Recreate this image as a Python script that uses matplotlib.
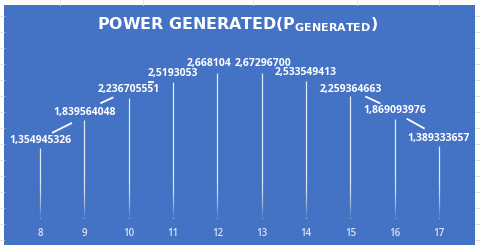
import numpy as np
import matplotlib
matplotlib.use("Agg")
import matplotlib.pyplot as plt
from matplotlib.transforms import IdentityTransform
from matplotlib.colors import to_rgb

# ---- data ----
hours = [8, 9, 10, 11, 12, 13, 14, 15, 16, 17]
power = [1.354945326, 1.839564048, 2.236705551, 2.519305353, 2.668104,
         2.672967, 2.533549413, 2.259364663, 1.869093976, 1.389333657]
point_labels = ["1,354945326", "1,839564048", "2,236705551", "2,5193053", "2,668104",
                "2,67296700", "2,533549413", "2,259364663", "1,869093976", "1,389333657"]

BLUE = "#4472C4"
W, H = 480, 249
fig = plt.figure(figsize=(W / 100, H / 100), dpi=100, facecolor="white")

ax_l, ax_r, ax_t, ax_b = 4, 475, 5, 245
ax = fig.add_axes([ax_l / W, (H - ax_b) / H, (ax_r - ax_l) / W, (ax_b - ax_t) / H])
ax.set_facecolor(BLUE)
for s in ax.spines.values():
    s.set_visible(False)

# scales: 8 -> px 40, 17 -> px 439 ; value 0 -> px 225, 56.9 px per unit
xu = (439 - 40) / 9
XLIM = (8 - (40 - ax_l) / xu, 17 + (ax_r - 439) / xu)
yu = 56.9
YLIM = (-(ax_b - 225) / yu, (225 - ax_t) / yu)
ax.set_xlim(XLIM)
ax.set_ylim(YLIM)
ax.set_yticks([])

ax.set_xticks(hours)
ax.set_xticklabels([str(h) for h in hours], fontfamily="Open Sans", fontsize=7,
                   fontweight="semibold", color="#DCE3F3")
ax.tick_params(axis="x", length=0, pad=-12.5)

# stems
ax.vlines(hours, 0.12, power, colors="white", linewidth=0.9, alpha=0.85, zorder=2)

# fade at bottom of stems
rgb = to_rgb(BLUE)
n = 100
grad = np.zeros((n, 2, 4))
grad[..., 0], grad[..., 1], grad[..., 2] = rgb
alpha = np.linspace(1, 0, n) ** 2.2
grad[..., 3] = alpha[:, None]
ax.imshow(grad, extent=[XLIM[0], XLIM[1], 0.12, 0.9], origin="lower", aspect="auto",
          zorder=3, interpolation="bilinear")
ax.set_xlim(XLIM)
ax.set_ylim(YLIM)

# data labels (px offsets)
label_dx = [0, 0, 0, 0, -8, 1, 0, 0, 0, 0]
label_dy = [7, 8, 8, 8, 10, 9, 8, 7, 8, 7]
for x, v, t, dx, dy in zip(hours, power, point_labels, label_dx, label_dy):
    ax.annotate(t, (x, v), xytext=(dx * 0.72, dy * 0.72), textcoords="offset points",
                ha="center", va="center", color="white", fontsize=7.5,
                fontfamily="Open Sans", fontweight="bold", zorder=5)

# leader lines, pixel offsets from point (dx0, dy0, dx1, dy1), dy up
leaders = {0: (12, 15, 32, 25), 1: (16, 17, 29, 23), 3: (-25, 0, -19, 0),
           7: (15, 0, 30, -7), 8: (12, 0, 30, -10)}
for i, (dx0, dy0, dx1, dy1) in leaders.items():
    px, py = ax.transData.transform((hours[i], power[i]))
    ax.plot([px + dx0, px + dx1], [py + dy0, py + dy1], color="white", lw=1.3,
            transform=IdentityTransform(), zorder=5, solid_capstyle="butt")

# title
plt.rcParams["mathtext.fontset"] = "custom"
plt.rcParams["mathtext.bf"] = "DejaVu Sans:bold"
plt.rcParams["mathtext.rm"] = "DejaVu Sans:bold"
fig.text(238 / W, 1 - 25 / H, r"POWER GENERATED(P$_{\mathbf{GENERATED}}$)",
         ha="center", va="center", color="white", fontsize=11.4,
         fontfamily="DejaVu Sans", fontweight="bold")

# faint sheet grid marks outside chart
for y in np.arange(16, 245, 16):
    fig.add_artist(plt.Line2D([0, ax_l / W], [1 - y / H, 1 - y / H], color="#DDDDDD", lw=0.6))
    fig.add_artist(plt.Line2D([ax_r / W, 1], [1 - y / H, 1 - y / H], color="#DDDDDD", lw=0.6))
for x in [60, 143, 253, 357, 439]:
    fig.add_artist(plt.Line2D([x / W, x / W], [1 - ax_t / H, 1], color="#DDDDDD", lw=0.6))

fig.savefig("out.png", dpi=100, facecolor="white")
